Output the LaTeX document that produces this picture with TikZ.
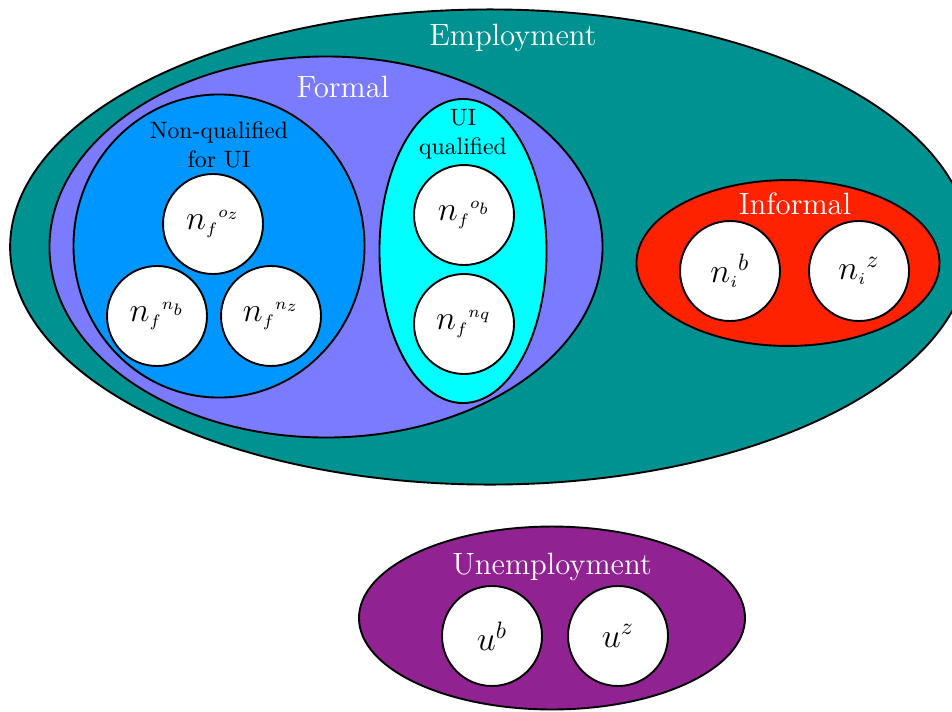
\documentclass[tikz,border=0pt]{standalone}
\usetikzlibrary{positioning, shapes.geometric}
\definecolor{employcol}{RGB}{0,145,145}
\definecolor{formalcol}{RGB}{123,123,255}
\definecolor{nonqualcol}{RGB}{0,150,255}
\definecolor{uiqualcol}{RGB}{0,255,255}
\definecolor{informcol}{RGB}{255,34,0}
\definecolor{unempcol}{RGB}{145,34,145}
\newcommand{\grpsym}[3]{{#1_{\scriptscriptstyle #2}}^{#3}}

\begin{document}
\begin{tikzpicture}[
    x=0.422pt, y=-0.422pt,
    % Node styles
    region/.style={draw, thick, ellipse, inner sep=0pt},
    agent/.style={draw, thick, circle, fill=white, minimum size=42.2pt, inner sep=0pt, font=\Large},
    setname/.style={font=\fontsize{13}{15}\selectfont, text=white},
    subname/.style={font=\normalsize, align=center},
  ]
    \useasboundingbox (0,0) rectangle (952,711);
    \clip (0,0) rectangle (952,711);

    % Sets
    \node[region, fill=employcol, minimum width=405pt, minimum height=200.5pt] (employ) at (490,247) {};
    \node[region, fill=formalcol, minimum width=233.4pt, minimum height=160.8pt] (formal) at (326,247) {};
    \node[region, fill=nonqualcol, minimum width=122.8pt, minimum height=127.9pt] (nonqual) at (219,246) {};
    \node[region, fill=uiqualcol, minimum width=70.5pt, minimum height=128.3pt] (uiqual) at (463,251) {};
    \node[region, fill=informcol, minimum width=127.9pt, minimum height=70pt] (inform) at (788,263) {};
    \node[region, fill=unempcol, minimum width=162.9pt, minimum height=77.2pt] (unemp) at (552,618) {};

    % Set names
    \node[setname] (employ-name) at (513,38) {Employment};
    \node[setname] (formal-name) at (343,87) {Formal};
    \node[subname] (nonqual-name) at (219,145) {Non-qualified\\for UI};
    \node[subname] (uiqual-name) at (463,134) {UI\\qualified};
    \node[setname] (inform-name) at (795,204) {Informal};
    \node[setname] (unemp-name) at (552,567) {Unemployment};

    % Groups of workers
    \node[agent] (nfoz) at (213,224) {$\grpsym{n}{f}{\scriptscriptstyle o_z}$};
    \node[agent] (nfnb) at (157,316) {$\grpsym{n}{f}{\scriptscriptstyle n_b}$};
    \node[agent] (nfnz) at (271,316) {$\grpsym{n}{f}{\scriptscriptstyle n_z}$};
    \node[agent] (nfob) at (464,215) {$\grpsym{n}{f}{\scriptscriptstyle o_b}$};
    \node[agent] (nfnq) at (464,324) {$\grpsym{n}{f}{\scriptscriptstyle n_q}$};
    \node[agent] (nib) at (730,271) {$\grpsym{n}{i}{b}$};
    \node[agent] (niz) at (859,271) {$\grpsym{n}{i}{z}$};
    \node[agent] (ub) at (492,636) {$u^{b}$};
    \node[agent] (uz) at (618,636) {$u^{z}$};
\end{tikzpicture}
\end{document}
